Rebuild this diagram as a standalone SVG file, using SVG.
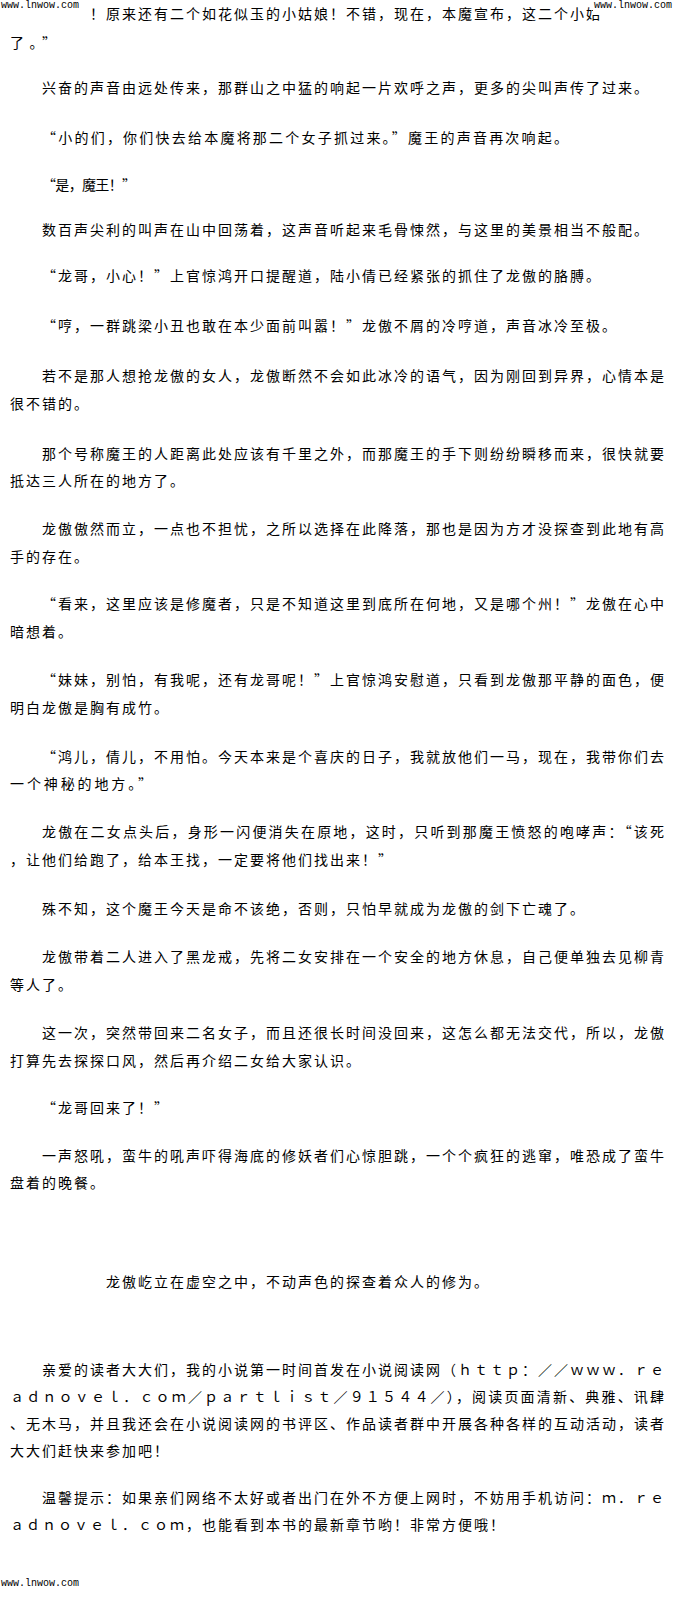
<svg xmlns="http://www.w3.org/2000/svg" width="680" height="1599" viewBox="0 0 680 1599">
<style>
.t{font-family:"Noto Sans CJK SC","Liberation Sans",sans-serif;font-size:14px;fill:#000;font-feature-settings:"fwid" 1;}
.w{font-family:"Liberation Mono","DejaVu Sans Mono",monospace;font-size:10px;fill:#000;}
</style>
<rect x="0" y="0" width="680" height="1599" fill="#fff"/>
<g id="page-text">
<text class="t" x="90" y="18.5" textLength="510" lengthAdjust="spacing">！原来还有二个如花似玉的小姑娘！不错，现在，本魔宣布，这二个小姑</text>
<text class="t" x="10" y="48" textLength="46" lengthAdjust="spacing">了。”</text>
<text class="t" x="42" y="93" textLength="606" lengthAdjust="spacing">兴奋的声音由远处传来，那群山之中猛的响起一片欢呼之声，更多的尖叫声传了过来。</text>
<text class="t" x="42" y="143" textLength="526" lengthAdjust="spacing">“小的们，你们快去给本魔将那二个女子抓过来。”魔王的声音再次响起。</text>
<text class="t" x="42" y="190" textLength="94" lengthAdjust="spacing">“是，魔王！”</text>
<text class="t" x="42" y="235" textLength="606" lengthAdjust="spacing">数百声尖利的叫声在山中回荡着，这声音听起来毛骨悚然，与这里的美景相当不般配。</text>
<text class="t" x="42" y="281" textLength="558" lengthAdjust="spacing">“龙哥，小心！”上官惊鸿开口提醒道，陆小倩已经紧张的抓住了龙傲的胳膊。</text>
<text class="t" x="42" y="331" textLength="574" lengthAdjust="spacing">“哼，一群跳梁小丑也敢在本少面前叫嚣！”龙傲不屑的冷哼道，声音冰冷至极。</text>
<text class="t" x="42" y="381" textLength="622" lengthAdjust="spacing">若不是那人想抢龙傲的女人，龙傲断然不会如此冰冷的语气，因为刚回到异界，心情本是</text>
<text class="t" x="10" y="409" textLength="78" lengthAdjust="spacing">很不错的。</text>
<text class="t" x="42" y="459" textLength="622" lengthAdjust="spacing">那个号称魔王的人距离此处应该有千里之外，而那魔王的手下则纷纷瞬移而来，很快就要</text>
<text class="t" x="10" y="486" textLength="174" lengthAdjust="spacing">抵达三人所在的地方了。</text>
<text class="t" x="42" y="534" textLength="622" lengthAdjust="spacing">龙傲傲然而立，一点也不担忧，之所以选择在此降落，那也是因为方才没探查到此地有高</text>
<text class="t" x="10" y="562" textLength="78" lengthAdjust="spacing">手的存在。</text>
<text class="t" x="42" y="609" textLength="622" lengthAdjust="spacing">“看来，这里应该是修魔者，只是不知道这里到底所在何地，又是哪个州！”龙傲在心中</text>
<text class="t" x="10" y="637" textLength="62" lengthAdjust="spacing">暗想着。</text>
<text class="t" x="42" y="685" textLength="622" lengthAdjust="spacing">“妹妹，别怕，有我呢，还有龙哥呢！”上官惊鸿安慰道，只看到龙傲那平静的面色，便</text>
<text class="t" x="10" y="713" textLength="158" lengthAdjust="spacing">明白龙傲是胸有成竹。</text>
<text class="t" x="42" y="762" textLength="622" lengthAdjust="spacing">“鸿儿，倩儿，不用怕。今天本来是个喜庆的日子，我就放他们一马，现在，我带你们去</text>
<text class="t" x="10" y="789" textLength="142" lengthAdjust="spacing">一个神秘的地方。”</text>
<text class="t" x="42" y="837" textLength="622" lengthAdjust="spacing">龙傲在二女点头后，身形一闪便消失在原地，这时，只听到那魔王愤怒的咆哮声：“该死</text>
<text class="t" x="10" y="865" textLength="382" lengthAdjust="spacing">，让他们给跑了，给本王找，一定要将他们找出来！”</text>
<text class="t" x="42" y="914" textLength="542" lengthAdjust="spacing">殊不知，这个魔王今天是命不该绝，否则，只怕早就成为龙傲的剑下亡魂了。</text>
<text class="t" x="42" y="962" textLength="622" lengthAdjust="spacing">龙傲带着二人进入了黑龙戒，先将二女安排在一个安全的地方休息，自己便单独去见柳青</text>
<text class="t" x="10" y="990" textLength="62" lengthAdjust="spacing">等人了。</text>
<text class="t" x="42" y="1038" textLength="622" lengthAdjust="spacing">这一次，突然带回来二名女子，而且还很长时间没回来，这怎么都无法交代，所以，龙傲</text>
<text class="t" x="10" y="1066" textLength="350" lengthAdjust="spacing">打算先去探探口风，然后再介绍二女给大家认识。</text>
<text class="t" x="42" y="1113" textLength="126" lengthAdjust="spacing">“龙哥回来了！”</text>
<text class="t" x="42" y="1161" textLength="622" lengthAdjust="spacing">一声怒吼，蛮牛的吼声吓得海底的修妖者们心惊胆跳，一个个疯狂的逃窜，唯恐成了蛮牛</text>
<text class="t" x="10" y="1188" textLength="94" lengthAdjust="spacing">盘着的晚餐。</text>
<text class="t" x="106" y="1287" textLength="382" lengthAdjust="spacing">龙傲屹立在虚空之中，不动声色的探查着众人的修为。</text>
<text class="t" x="42" y="1375" textLength="622" lengthAdjust="spacing">亲爱的读者大大们，我的小说第一时间首发在小说阅读网（ｈｔｔｐ：／／ｗｗｗ．ｒｅ</text>
<text class="t" x="10" y="1402" textLength="654" lengthAdjust="spacing">ａｄｎｏｖｅｌ．ｃｏｍ／ｐａｒｔｌｉｓｔ／９１５４４／），阅读页面清新、典雅、讯肆</text>
<text class="t" x="10" y="1429" textLength="654" lengthAdjust="spacing">、无木马，并且我还会在小说阅读网的书评区、作品读者群中开展各种各样的互动活动，读者</text>
<text class="t" x="10" y="1456" textLength="158" lengthAdjust="spacing">大大们赶快来参加吧！</text>
<text class="t" x="42" y="1503" textLength="622" lengthAdjust="spacing">温馨提示：如果亲们网络不太好或者出门在外不方便上网时，不妨用手机访问：ｍ．ｒｅ</text>
<text class="t" x="10" y="1530" textLength="494" lengthAdjust="spacing">ａｄｎｏｖｅｌ．ｃｏｍ，也能看到本书的最新章节哟！非常方便哦！</text>
</g>
<g id="watermarks">
<rect x="0" y="0" width="82" height="11" fill="#fff"/>
<text class="w" x="1" y="8">www.lnwow.com</text>
<rect x="593" y="0" width="87" height="15" fill="#fff"/>
<text class="w" x="594" y="8">www.lnwow.com</text>
<text class="w" x="1" y="1586">www.lnwow.com</text>
</g>
</svg>
